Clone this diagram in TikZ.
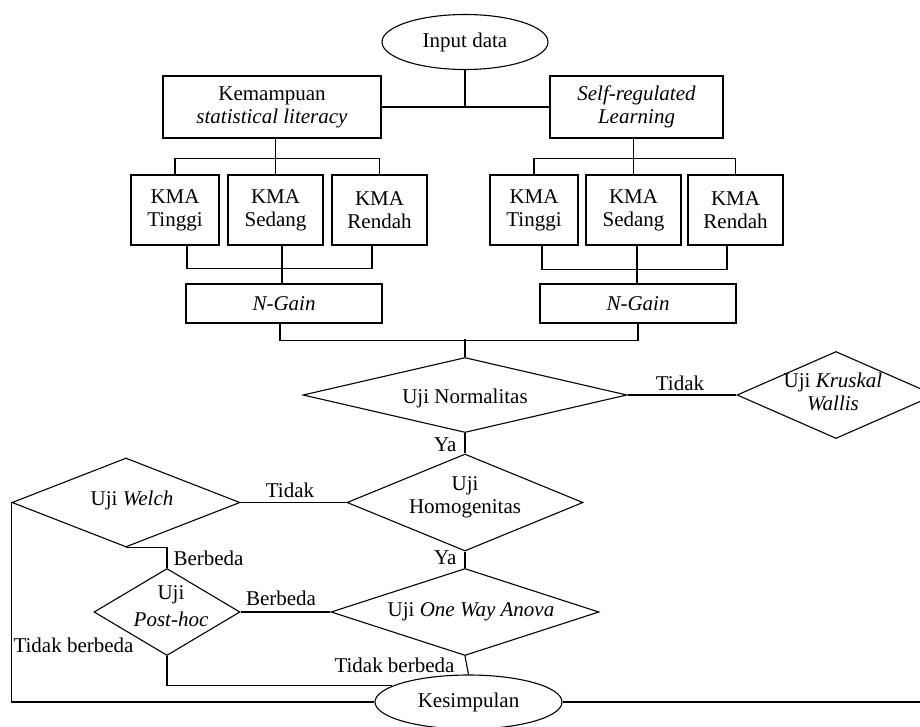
\documentclass[tikz,border=0pt]{standalone}
\usepackage{fontspec}
\setmainfont{Liberation Serif}
\usetikzlibrary{shapes.geometric}
\begin{document}
\begin{tikzpicture}[x=1pt,y=-1pt, line width=1.1pt,
  every node/.style={font=\fontsize{21}{23}\selectfont},
  box/.style={draw, rectangle, inner sep=0pt, align=center},
  oval/.style={draw, ellipse, inner sep=0pt},
  dia/.style={draw, diamond, inner sep=0pt},
  txt/.style={align=center, inner sep=0pt},
  lab/.style={inner sep=0pt}]
\useasboundingbox (0,0) rectangle (920,726);
\clip (0,0) rectangle (920,726);
% top
\node[oval, minimum width=166pt, minimum height=55pt] (inp) at (465,42) {Input data};
\node[box, minimum width=218pt, minimum height=62pt] (k1) at (272,107) {Kemampuan\\\textit{statistical literacy}};
\node[box, minimum width=173pt, minimum height=62pt] (k2) at (636.5,107) {\textit{Self-regulated}\\\textit{Learning}};
% KMA boxes
\node[box, minimum width=88pt, minimum height=70pt] (a1) at (175,210) {KMA\\Tinggi};
\node[box, minimum width=95pt, minimum height=70pt] (a2) at (275.5,210) {KMA\\Sedang};
\node[box, minimum width=95pt, minimum height=70pt] (a3) at (379.5,210) {KMA\\Rendah};
\node[box, minimum width=88pt, minimum height=70pt] (b1) at (534,210) {KMA\\Tinggi};
\node[box, minimum width=95pt, minimum height=70pt] (b2) at (633.5,210) {KMA\\Sedang};
\node[box, minimum width=95pt, minimum height=70pt] (b3) at (735.5,210) {KMA\\Rendah};
% N-Gain
\node[box, minimum width=196pt, minimum height=39pt] (n1) at (284,303.5) {\textit{N-Gain}};
\node[box, minimum width=196pt, minimum height=39pt] (n2) at (638,303.5) {\textit{N-Gain}};
% diamonds
\node[dia, minimum width=324pt, minimum height=75pt] (norm) at (465,395) {};
\node[txt] (normt) at (465,398) {Uji Normalitas};
\node[dia, minimum width=198pt, minimum height=87pt] (krus) at (836,395) {};
\node[txt] (krust) at (833,392) {Uji \textit{Kruskal}\\\textit{Wallis}};
\node[dia, minimum width=236pt, minimum height=97pt] (homo) at (465,502.5) {};
\node[txt] (homot) at (465,497) {Uji\\Homogenitas};
\node[dia, minimum width=228pt, minimum height=89pt] (welch) at (126,502.5) {};
\node[txt] (welcht) at (132,500) {Uji \textit{Welch}};
\node[dia, minimum width=146pt, minimum height=87pt] (post) at (167,612) {};
\node[txt] (postt) at (171,606) {Uji\\[4pt]\textit{Post-hoc}};
\node[dia, minimum width=268pt, minimum height=87pt] (anova) at (465,612) {};
\node[txt] (anovat) at (471,612) {Uji \textit{One Way Anova}};
\node[oval, minimum width=187pt, minimum height=54pt] (kes) at (468.5,702) {Kesimpulan};
% labels
\node[lab, anchor=east] (ya1) at (457,445) {Ya};
\node[lab, anchor=east] (ya2) at (457,558) {Ya};
\node[lab] (tidak1) at (680,383) {Tidak};
\node[lab] (tidak2) at (290,490) {Tidak};
\node[lab, anchor=west] (berb1) at (173,558) {Berbeda};
\node[lab] (berb2) at (281,598) {Berbeda};
\node[lab, anchor=east] (tb1) at (455,665) {Tidak berbeda};
\node[lab, anchor=west] (tb2) at (13,645) {Tidak berbeda};
% connectors top
\draw (inp.south) -- (inp.south |- k1.east);
\draw (k1.east) -- (k2.west);
\draw (k1.south -| a2.north) -- (a2.north);
\draw (a1.north) -- ++(0,-16) -| (a3.north);
\draw (k2.south -| b2.north) -- (b2.north);
\draw (b1.north) -- ++(0,-16) -| (b3.north);
% connectors to N-Gain
\draw ([xshift=12pt]a1.south) -- ++(0,23) -| ([xshift=-7.5pt]a3.south);
\draw ([xshift=6.5pt]a2.south) -- ([xshift=-2pt]n1.north);
\draw ([xshift=8pt]b1.south) -- ++(0,24) -| ([xshift=-8.5pt]b3.south);
\draw ([xshift=3.5pt]b2.south) -- ([xshift=-1pt]n2.north);
\draw ([xshift=-4pt]n1.south) -- ++(0,17) -| (n2.south);
\draw (norm.north) -- ++(0,-17.5);
% decisions
\draw (norm.south) -- (homo.north);
\draw (norm.east) -- (krus.west);
\draw (homo.west) -- (welch.east);
\draw (homo.south) -- (anova.north);
\draw (welch.south) -| (post.north);
\draw (post.east) -- (anova.west);
\draw (anova.south) -- (kes.north);
\draw (post.south) |- (kes.168);
\draw (welch.west) |- (kes.west);
\coordinate (rend) at (925,702);
\draw (kes.east) -- (rend);
\end{tikzpicture}
\end{document}
